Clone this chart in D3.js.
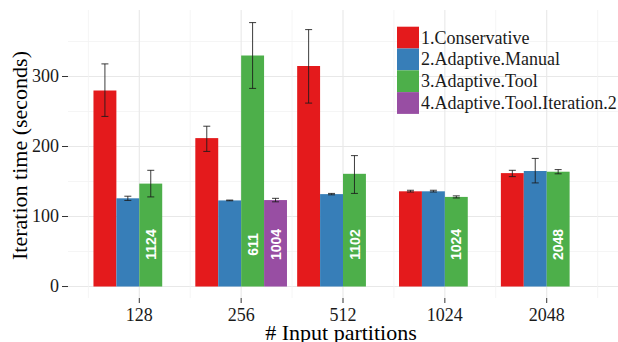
<!DOCTYPE html>
<html><head><meta charset="utf-8">
<script src="https://cdn.jsdelivr.net/npm/d3@7"></script>
<style>body{margin:0;background:#fff}svg{display:block}.serif{font-family:"Liberation Serif","DejaVu Serif",serif}.sans{font-family:"Liberation Sans","DejaVu Sans",sans-serif}</style>
</head><body><svg id="c" width="618" height="342"></svg>
<script>
const categories = ["128","256","512","1024","2048"];
const seriesNames = ["1.Conservative","2.Adaptive.Manual","3.Adaptive.Tool","4.Adaptive.Tool.Iteration.2"];
const colors = ["#E41A1C","#377EB8","#4DAF4A","#984EA3"];
const conservative   = [280, 212, 315, 136, 162];
const conservativeLo = [243, 193, 262, 135, 157];
const conservativeHi = [318, 229, 367, 137.5, 166];
const manual   = [126, 123, 132, 136, 165];
const manualLo = [123, 122.5, 131, 135, 148];
const manualHi = [129, 123.5, 133, 137.5, 183];
const tool   = [147, 330, 161, 128, 164];
const toolLo = [128, 283, 133, 126.5, 161];
const toolHi = [166, 377, 187, 129.5, 167];
const iter2   = [null, 123.5, null, null, null];
const iter2Lo = [null, 121, null, null, null];
const iter2Hi = [null, 126, null, null, null];
const toolLabels  = ["1124","611","1102","1024","2048"];
const iter2Labels = [null,"1004",null,null,null];
const yTicks = [0,100,200,300];
const yMinor = [50,150,250,350];

const vals = [conservative, manual, tool, iter2];
const los = [conservativeLo, manualLo, toolLo, iter2Lo];
const his = [conservativeHi, manualHi, toolHi, iter2Hi];
const labs = [null, null, toolLabels, iter2Labels];

const svg = d3.select("#c");
const L = 68, R = 618, T = 10, B = 298;
const x0 = d3.scalePoint().domain(categories).range([L, R]).padding(0.7);
const step = x0.step();
const x1 = d3.scaleBand().domain(seriesNames).range([-0.45*step, 0.45*step]);
const y = d3.scaleLinear().domain([-16.4, 395]).range([B, T]);

const g = svg.append("g");
// grid
yMinor.forEach(v => g.append("line").attr("x1",L).attr("x2",R).attr("y1",y(v)).attr("y2",y(v)).attr("stroke","#f2f2f2").attr("stroke-width",0.8));
yTicks.forEach(v => g.append("line").attr("x1",L).attr("x2",R).attr("y1",y(v)).attr("y2",y(v)).attr("stroke","#e8e8e8").attr("stroke-width",1.1));
categories.forEach((c,i) => {
  const cx = x0(c);
  g.append("line").attr("x1",cx-step/2).attr("x2",cx-step/2).attr("y1",T).attr("y2",B).attr("stroke","#f2f2f2").attr("stroke-width",0.8);
  if (i === categories.length-1) g.append("line").attr("x1",cx+step/2).attr("x2",cx+step/2).attr("y1",T).attr("y2",B).attr("stroke","#f2f2f2").attr("stroke-width",0.8);
  g.append("line").attr("x1",cx).attr("x2",cx).attr("y1",T).attr("y2",B).attr("stroke","#e8e8e8").attr("stroke-width",1.1);
});

// bars
seriesNames.forEach((s, si) => {
  categories.forEach((c, ci) => {
    const v = vals[si][ci];
    if (v == null) return;
    const bx = x0(c) + x1(s);
    g.append("rect").attr("x", bx).attr("y", y(v)).attr("width", x1.bandwidth()).attr("height", y(0)-y(v)).attr("fill", colors[si]);
  });
});
// error bars
seriesNames.forEach((s, si) => {
  categories.forEach((c, ci) => {
    const v = vals[si][ci];
    if (v == null) return;
    const cx = x0(c) + x1(s) + x1.bandwidth()/2;
    const lo = y(los[si][ci]), hi = y(his[si][ci]);
    const eg = g.append("g").attr("stroke","#1a1a1a").attr("stroke-width",1).attr("stroke-opacity",0.85);
    eg.append("line").attr("x1",cx).attr("x2",cx).attr("y1",lo).attr("y2",hi);
    eg.append("line").attr("x1",cx-3.5).attr("x2",cx+3.5).attr("y1",lo).attr("y2",lo);
    eg.append("line").attr("x1",cx-3.5).attr("x2",cx+3.5).attr("y1",hi).attr("y2",hi);
  });
});
// labels in bars
seriesNames.forEach((s, si) => {
  if (!labs[si]) return;
  categories.forEach((c, ci) => {
    const t = labs[si][ci];
    if (!t) return;
    const cx = x0(c) + x1(s) + x1.bandwidth()/2;
    const cy = y(60);
    g.append("text").attr("class","sans").attr("transform",`translate(${cx},${cy}) rotate(-90)`)
      .attr("text-anchor","middle").attr("dy","0.36em").attr("font-weight","bold")
      .attr("font-size",14).attr("fill","#fff").text(t);
  });
});

// axes
yTicks.forEach(v => {
  g.append("line").attr("x1",62).attr("x2",68).attr("y1",y(v)).attr("y2",y(v)).attr("stroke","#333").attr("stroke-width",1);
  g.append("text").attr("class","serif").attr("x",59).attr("y",y(v)).attr("dy","0.33em").attr("text-anchor","end")
    .attr("font-size",18).attr("fill","#1a1a1a").text(v);
});
categories.forEach(c => {
  g.append("line").attr("x1",x0(c)).attr("x2",x0(c)).attr("y1",298).attr("y2",303).attr("stroke","#333").attr("stroke-width",1);
  g.append("text").attr("class","serif").attr("x",x0(c)).attr("y",321).attr("text-anchor","middle")
    .attr("font-size",18).attr("fill","#1a1a1a").text(c);
});
g.append("text").attr("class","serif").attr("x",341).attr("y",340).attr("text-anchor","middle")
  .attr("font-size",22).attr("fill","#000").text("# Input partitions");
g.append("text").attr("class","serif").attr("transform","translate(27,155.5) rotate(-90)").attr("text-anchor","middle")
  .attr("font-size",22).attr("fill","#000").text("Iteration time (seconds)");

// legend
const lg = g.append("g");
seriesNames.forEach((s, i) => {
  const ky = 26.7 + i*21.8;
  lg.append("rect").attr("x",397).attr("y",ky).attr("width",22).attr("height",21.8).attr("fill",colors[i]);
  lg.append("text").attr("class","serif").attr("x",421).attr("y",ky+10.9).attr("dy","0.33em")
    .attr("font-size",18).attr("fill","#1a1a1a").text(s);
});
</script></body></html>
